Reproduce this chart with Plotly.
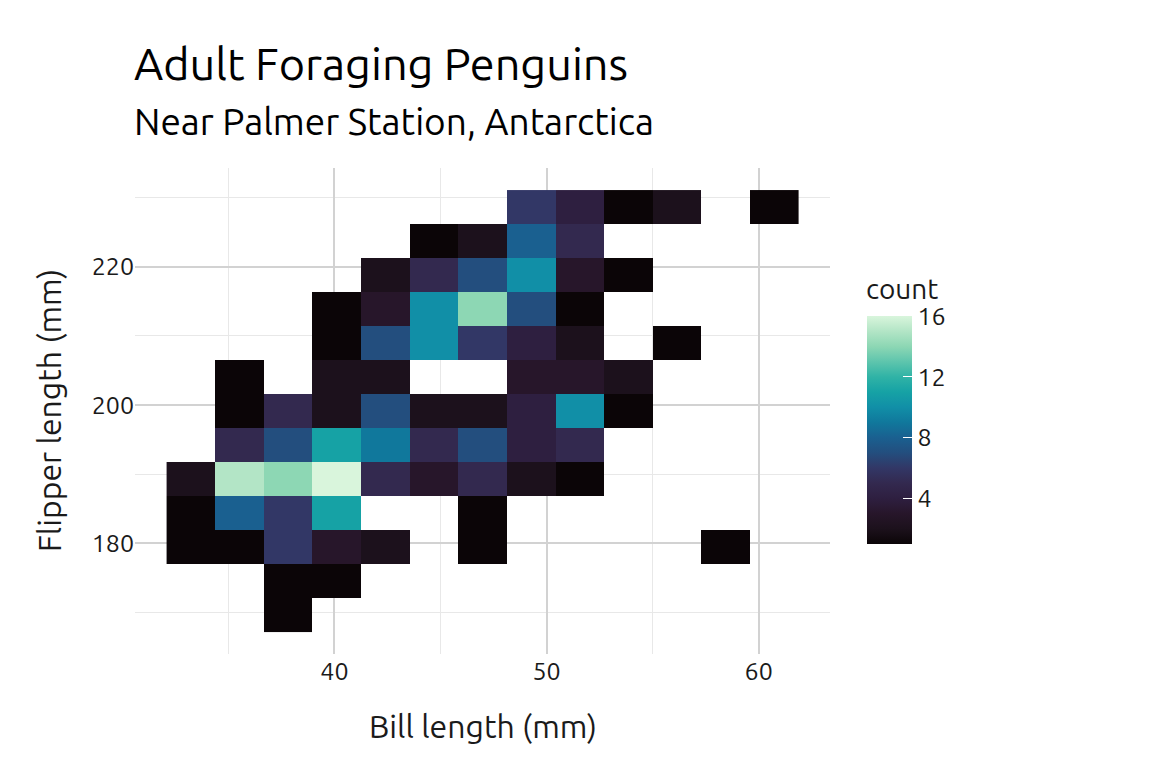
"""
Adult foraging penguins - 2D binned counts of bill vs flipper length.
"""
import plotly.graph_objects as go

# Bin centres (mm)
bill_bins = [33.23, 35.52, 37.81, 40.10, 42.40, 44.69, 46.98,
             49.27, 51.56, 53.85, 56.15, 58.44, 60.73]
flipper_bins = [169.63, 174.54, 179.46, 184.38, 189.29, 194.21, 199.13,
                204.04, 208.96, 213.88, 218.79, 223.71, 228.63]

# Counts per cell, one list per flipper bin (bottom -> top); None = empty
_ = None
row_170 = [_, _, 1, _, _, _, _, _, _, _, _, _, _]
row_175 = [_, _, 1, 1, _, _, _, _, _, _, _, _, _]
row_179 = [1, 1, 6, 3, 2, _, 1, _, _, _, _, 1, _]
row_184 = [1, 8, 6, 11, _, _, 1, _, _, _, _, _, _]
row_189 = [2, 15, 14, 16, 5, 3, 5, 2, 1, _, _, _, _]
row_194 = [_, 5, 7, 11, 9, 5, 7, 4, 5, _, _, _, _]
row_199 = [_, 1, 5, 2, 7, 2, 2, 4, 10, 1, _, _, _]
row_204 = [_, 1, _, 2, 2, _, _, 3, 3, 2, _, _, _]
row_209 = [_, _, _, 1, 7, 10, 6, 4, 2, _, 1, _, _]
row_214 = [_, _, _, 1, 3, 10, 14, 7, 1, _, _, _, _]
row_219 = [_, _, _, _, 2, 5, 7, 10, 3, 1, _, _, _]
row_224 = [_, _, _, _, _, 1, 2, 8, 5, _, _, _, _]
row_229 = [_, _, _, _, _, _, _, 6, 4, 1, 2, _, 1]

counts = [row_170, row_175, row_179, row_184, row_189, row_194, row_199,
          row_204, row_209, row_214, row_219, row_224, row_229]

x_ticks = [40, 50, 60]
y_ticks = [180, 200, 220]
legend_ticks = [4, 8, 12, 16]

# mako-like palette, one colour per count 1..16
MAKO = ['#0b0507', '#1c111c', '#27162a', '#2e1f40', '#33294f', '#323766',
        '#234e7e', '#1a6090', '#10789c', '#118fa7', '#16a2a5', '#30b3a6',
        '#5ec5ad', '#8dd7b4', '#b3e5c6', '#d9f5dc']
colorscale = [[i / (len(MAKO) - 1), c] for i, c in enumerate(MAKO)]

FONT = "Ubuntu, 'Open Sans', sans-serif"
TXT = '#1a1a1a'
NBSP = '\u00a0'

fig = go.Figure(go.Heatmap(
    x=bill_bins,
    y=flipper_bins,
    z=counts,
    zmin=1,
    zmax=16,
    colorscale=colorscale,
    hoverongaps=False,
    colorbar=dict(
        tickvals=legend_ticks,
        ticks='inside',
        ticklen=9,
        tickcolor='white',
        tickprefix=NBSP * 2,
        tickfont=dict(size=25, color=TXT),
        thickness=45,
        len=228,
        lenmode='pixels',
        x=1.053,
        xanchor='left',
        y=0.461,
        yanchor='middle',
        ypad=0,
        xpad=0,
        outlinewidth=0,
    ),
))

# expand 5% beyond the outer bin edges like ggplot does
half_x = (bill_bins[1] - bill_bins[0]) / 2
half_y = (flipper_bins[1] - flipper_bins[0]) / 2
x_lo, x_hi = bill_bins[0] - half_x, bill_bins[-1] + half_x
y_lo, y_hi = flipper_bins[0] - half_y, flipper_bins[-1] + half_y
x_pad = (x_hi - x_lo) * 0.05
y_pad = (y_hi - y_lo) * 0.05

fig.update_xaxes(
    range=[x_lo - x_pad, x_hi + x_pad],
    tickvals=x_ticks,
    showgrid=True, gridcolor='#d2d2d2', gridwidth=1.6,
    minor=dict(dtick=5, tick0=0, showgrid=True, gridcolor='#e8e8e8', gridwidth=1),
    zeroline=False, showline=False,
    tickfont=dict(size=25, color=TXT),
)
fig.update_yaxes(
    range=[y_lo - y_pad, y_hi + y_pad],
    tickvals=y_ticks,
    showgrid=True, gridcolor='#d2d2d2', gridwidth=1.6,
    minor=dict(dtick=10, tick0=0, showgrid=True, gridcolor='#e8e8e8', gridwidth=1),
    zeroline=False, showline=False,
    tickfont=dict(size=25, color=TXT),
)

# page body has an 8px margin, so the figure is 8px smaller than the window
fig.update_layout(
    width=1144,
    height=760,
    margin=dict(l=127, r=322, t=160, b=114),
    paper_bgcolor='white',
    plot_bgcolor='white',
    font=dict(family=FONT, color=TXT),
    annotations=[
        dict(text='Adult Foraging Penguins', x=-0.0043, y=1.215, xref='paper',
             yref='paper', xanchor='left', yanchor='middle', showarrow=False,
             font=dict(size=45, color='black')),
        dict(text='Near Palmer Station, Antarctica', x=-0.0043, y=1.0967,
             xref='paper', yref='paper', xanchor='left', yanchor='middle',
             showarrow=False, font=dict(size=37, color='black')),
        dict(text='Bill length (mm)', x=0.5, y=-0.149, xref='paper', yref='paper',
             xanchor='center', yanchor='middle', showarrow=False,
             font=dict(size=32, color=TXT)),
        dict(text='Flipper length (mm)', x=-0.1237, y=0.5, xref='paper', yref='paper',
             xanchor='center', yanchor='middle', textangle=-90, showarrow=False,
             font=dict(size=32, color=TXT)),
        dict(text='count', x=1.0489, y=0.753, xref='paper', yref='paper',
             xanchor='left', yanchor='middle', showarrow=False,
             font=dict(size=28, color=TXT)),
    ],
)

fig.write_html("out.html")
